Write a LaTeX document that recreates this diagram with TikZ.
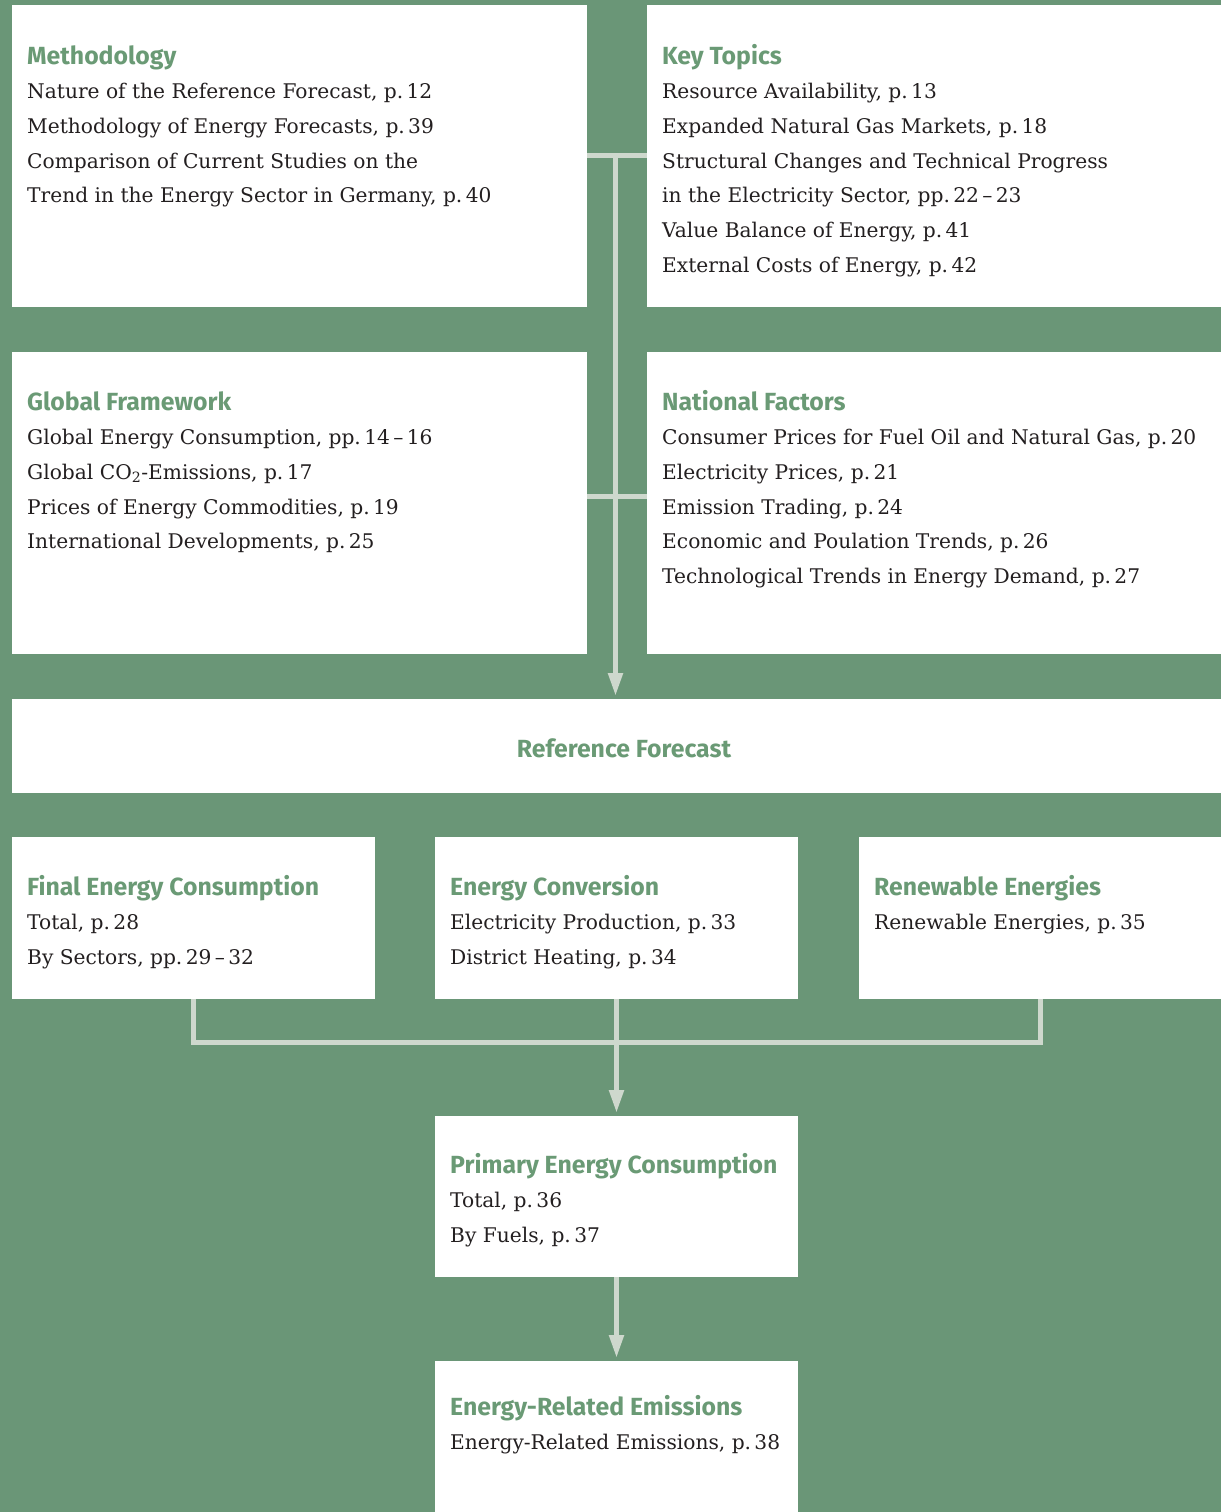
\documentclass[tikz,border=0pt]{standalone}
\usepackage{fontspec}
\setmainfont{DejaVu Serif}
\newfontfamily\headfont{Fira Sans}
\usetikzlibrary{arrows.meta}
\definecolor{bg}{HTML}{6A9677}
\definecolor{ln}{HTML}{CED8CD}
\definecolor{tx}{HTML}{231F20}
\definecolor{hd}{HTML}{6A9A75}
\newcommand{\boxlines}[5]{% name, x, y, heading, lines
  \node[head] (#1h) at (#2,#3) {#4};
  \foreach \t [count=\i] in {#5} {
    \node[body] (#1l\i) at (#2,#3+34.7*\i) {\t};
  }
}
\begin{document}
\begin{tikzpicture}[x=1pt,y=-1pt,
  panel/.style={fill=white, draw=none, inner sep=0pt, outer sep=0pt, anchor=north west},
  head/.style={anchor=base west, inner sep=0pt, font=\headfont\bfseries\fontsize{24.8}{28}\selectfont, text=hd},
  body/.style={anchor=base west, inner sep=0pt, font=\fontsize{20.2}{25}\selectfont, text=tx},
  conn/.style={draw=ln, line width=5pt},
  arr/.style={conn, -{Triangle[length=23pt,width=14pt]}, shorten >=3pt}]
\useasboundingbox (0,0) rectangle (1221,1512);
\fill[bg] (0,0) rectangle (1221,1512);
% panels
\node[panel, minimum width=575pt, minimum height=302pt] (meth) at (12,5) {};
\node[panel, minimum width=574pt, minimum height=302pt] (key) at (647,5) {};
\node[panel, minimum width=575pt, minimum height=302pt] (glob) at (12,352) {};
\node[panel, minimum width=574pt, minimum height=302pt] (nat) at (647,352) {};
\node[panel, minimum width=1209pt, minimum height=94pt] (ref) at (12,699) {};
\node[panel, minimum width=363pt, minimum height=162pt] (fin) at (12,837) {};
\node[panel, minimum width=363pt, minimum height=162pt] (conv) at (435,837) {};
\node[panel, minimum width=362pt, minimum height=162pt] (ren) at (859,837) {};
\node[panel, minimum width=363pt, minimum height=161pt] (prim) at (435,1116) {};
\node[panel, minimum width=363pt, minimum height=151pt] (emi) at (435,1361) {};
% connectors
\coordinate (j1) at (615.5,155.5);
\coordinate (j3) at (615.5,496);
\draw[conn] (meth.east |- j1) -- (key.west |- j1);
\draw[conn] (glob.east |- j3) -- (nat.west |- j3);
\draw[arr] (j1) -- (ref.north -| j1);
\coordinate (j2) at (616.5,1042.5);
\draw[conn] (fin.south) |- (j2) -| (ren.south);
\draw[arr] (conv.south) -- (prim.north);
\draw[arr] (prim.south) -- (emi.north);
% texts
\boxlines{m}{27}{64}{Methodology}{Nature of the Reference Forecast{,} p.\,12, Methodology of Energy Forecasts{,} p.\,39, Comparison of Current Studies on the, Trend in the Energy Sector in Germany{,} p.\,40}
\boxlines{k}{662}{64}{Key Topics}{Resource Availability{,} p.\,13, Expanded Natural Gas Markets{,} p.\,18, Structural Changes and Technical Progress, in the Electricity Sector{,} pp.\,22\,–\,23, Value Balance of Energy{,} p.\,41, External Costs of Energy{,} p.\,42}
\boxlines{g}{27}{410}{Global Framework}{Global Energy Consumption{,} pp.\,14\,–\,16, Global CO\textsubscript{2}-Emissions{,} p.\,17, Prices of Energy Commodities{,} p.\,19, International Developments{,} p.\,25}
\boxlines{n}{662}{410}{National Factors}{Consumer Prices for Fuel Oil and Natural Gas{,} p.\,20, Electricity Prices{,} p.\,21, Emission Trading{,} p.\,24, Economic and Poulation Trends{,} p.\,26, Technological Trends in Energy Demand{,} p.\,27}
\node[head, anchor=base] (reft) at (624,757) {Reference Forecast};
\boxlines{f}{27}{895}{Final Energy Consumption}{Total{,} p.\,28, By Sectors{,} pp.\,29\,–\,32}
\boxlines{c}{450}{895}{Energy Conversion}{Electricity Production{,} p.\,33, District Heating{,} p.\,34}
\boxlines{r}{874}{895}{Renewable Energies}{Renewable Energies{,} p.\,35}
\boxlines{p}{450}{1173}{Primary Energy Consumption}{Total{,} p.\,36, By Fuels{,} p.\,37}
\boxlines{e}{450}{1415}{Energy-Related Emissions}{Energy-Related Emissions{,} p.\,38}
\end{tikzpicture}
\end{document}
